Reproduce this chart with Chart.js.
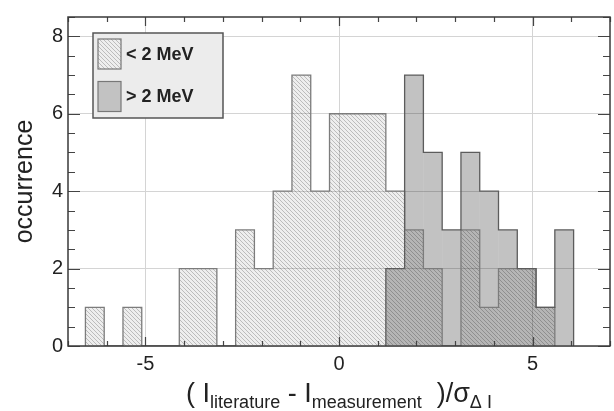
<!DOCTYPE html>
<html>
<head>
<meta charset="utf-8">
<script src="https://cdn.jsdelivr.net/npm/chart.js@4.4.0/dist/chart.umd.min.js"></script>
<style>
    body { margin: 0; background: #fff; }
    #wrap { width: 614px; height: 411px; }
</style>
</head>
<body>
<div id="wrap"><canvas id="histChart" width="614" height="411"></canvas></div>
<script>
// Histogram data (27 bin edges -> 26 bins)
const binEdges = [-6.55, -6.065, -5.58, -5.095, -4.61, -4.125, -3.64, -3.155, -2.67, -2.185, -1.70,
    -1.215, -0.73, -0.245, 0.24, 0.725, 1.21, 1.695, 2.18, 2.665, 3.15, 3.635, 4.12, 4.605, 5.09, 5.575, 6.06];
const seriesLabels = ['< 2 MeV', '> 2 MeV'];
const lowEnergy  = [1, 0, 1, 0, 0, 2, 2, 0, 3, 2, 4, 7, 4, 6, 6, 6, 4, 3, 2, 0, 3, 1, 2, 2, 1, 0];
const highEnergy = [0, 0, 0, 0, 0, 0, 0, 0, 0, 0, 0, 0, 0, 0, 0, 0, 2, 7, 5, 3, 5, 4, 3, 2, 1, 3];
const xTickValues = [-5, 0, 5];
const yTickValues = [0, 2, 4, 6, 8];

const FONT = "'Liberation Sans', Arial, sans-serif";
Chart.defaults.font.family = FONT;
Chart.defaults.color = '#222';

// Diagonal hatch pattern for the "< 2 MeV" bars
function makeHatch(bg, line) {
    const s = 4;
    const c = document.createElement('canvas');
    c.width = s; c.height = s;
    const g = c.getContext('2d');
    g.fillStyle = bg;
    g.fillRect(0, 0, s, s);
    g.strokeStyle = line;
    g.lineWidth = 1;
    g.beginPath();
    for (let k = -s; k <= s; k += s) {
        g.moveTo(k, 0);
        g.lineTo(k + s, s);
    }
    g.stroke();
    return g.createPattern(c, 'repeat');
}

const hatchFill = makeHatch('#eeeeee', '#bcbcbc');
const grayFill = '#c2c2c2';

// Bar data: one bar per bin, centred between its edges
function barData(values) {
    return values.map((v, i) => ({ x: (binEdges[i] + binEdges[i + 1]) / 2, y: v === 0 ? null : v }));
}

// Step outline of the histogram (no internal separators)
function stepData(values) {
    let first = values.findIndex(v => v !== 0);
    let last = values.length - 1;
    while (last > 0 && values[last] === 0) last--;
    const pts = [{ x: binEdges[first], y: 0 }];
    for (let i = first; i <= last; i++) {
        pts.push({ x: binEdges[i + 1], y: values[i] });
    }
    pts.push({ x: binEdges[last + 1], y: 0 });
    return pts;
}

// Multiply blending so the overlap of both series becomes darker
const blendPlugin = {
    id: 'blend',
    beforeDatasetDraw(chart, args) {
        if (chart.data.datasets[args.index].type === 'bar') {
            chart.ctx.save();
            chart.ctx.globalCompositeOperation = 'multiply';
        }
    },
    afterDatasetDraw(chart, args) {
        if (chart.data.datasets[args.index].type === 'bar') chart.ctx.restore();
    }
};

// Frame, inward ticks, legend box and x axis title
const decorPlugin = {
    id: 'decor',
    afterDraw(chart) {
        const ctx = chart.ctx;
        const { left, right, top, bottom } = chart.chartArea;
        const xs = chart.scales.x, ys = chart.scales.y;

        ctx.save();
        ctx.strokeStyle = '#444';
        ctx.lineWidth = 1.2;
        ctx.beginPath();
        for (let v = Math.ceil(xs.min); v <= xs.max; v++) {
            const px = Math.round(xs.getPixelForValue(v)) + 0.5;
            const len = v % 5 === 0 ? 9 : 5;
            ctx.moveTo(px, top); ctx.lineTo(px, top + len);
            ctx.moveTo(px, bottom); ctx.lineTo(px, bottom - len);
        }
        for (let v = 0; v <= ys.max; v += 0.5) {
            const py = Math.round(ys.getPixelForValue(v)) + 0.5;
            const len = v % 2 === 0 ? 12 : 7;
            ctx.moveTo(left, py); ctx.lineTo(left + len, py);
            ctx.moveTo(right, py); ctx.lineTo(right - len, py);
        }
        ctx.stroke();

        ctx.strokeStyle = '#3a3a3a';
        ctx.lineWidth = 1.5;
        ctx.strokeRect(left, top, right - left, bottom - top);

        // legend
        const lx = 93, ly = 33, lw = 130, lh = 85;
        ctx.fillStyle = '#ececec';
        ctx.fillRect(lx, ly, lw, lh);
        ctx.strokeStyle = '#555';
        ctx.lineWidth = 1.5;
        ctx.strokeRect(lx, ly, lw, lh);
        const fills = [hatchFill, grayFill];
        ctx.font = 'bold 18px ' + FONT;
        ctx.textBaseline = 'middle';
        seriesLabels.forEach((label, i) => {
            const sy = ly + 6 + i * 42.5;
            ctx.fillStyle = fills[i];
            ctx.fillRect(lx + 5, sy, 23, 30);
            ctx.strokeStyle = '#777';
            ctx.lineWidth = 1.2;
            ctx.strokeRect(lx + 5, sy, 23, 30);
            ctx.fillStyle = '#222';
            ctx.fillText(label, lx + 33, sy + 16);
        });

        // x axis title with subscripts
        const parts = [
            { text: '( ', sub: false }, { text: 'I', sub: false }, { text: 'literature', sub: true },
            { text: ' - ', sub: false }, { text: 'I', sub: false }, { text: 'measurement', sub: true },
            { text: '  )/\u03c3', sub: false }, { text: '\u0394 I', sub: true }
        ];
        const mainFont = '27px ' + FONT, subFont = '18px ' + FONT;
        let total = 0;
        parts.forEach(p => {
            ctx.font = p.sub ? subFont : mainFont;
            p.w = ctx.measureText(p.text).width;
            total += p.w;
        });
        let x = (left + right) / 2 - total / 2;
        ctx.textBaseline = 'alphabetic';
        ctx.fillStyle = '#222';
        parts.forEach(p => {
            ctx.font = p.sub ? subFont : mainFont;
            ctx.fillText(p.text, x, p.sub ? 408 : 402);
            x += p.w;
        });
        ctx.restore();
    }
};

const ctx = document.getElementById('histChart').getContext('2d');

new Chart(ctx, {
    type: 'bar',
    data: {
        datasets: [
            {
                type: 'bar',
                label: seriesLabels[0],
                data: barData(lowEnergy),
                backgroundColor: hatchFill,
                borderWidth: 0,
                inflateAmount: 0,
                barPercentage: 1,
                categoryPercentage: 1,
                grouped: false,
                order: 4
            },
            {
                type: 'bar',
                label: seriesLabels[1],
                data: barData(highEnergy),
                backgroundColor: grayFill,
                borderWidth: 0,
                inflateAmount: 0,
                barPercentage: 1,
                categoryPercentage: 1,
                grouped: false,
                order: 3
            },
            {
                type: 'line',
                label: seriesLabels[0] + ' outline',
                data: stepData(lowEnergy),
                stepped: 'after',
                borderColor: '#7c7c7c',
                borderWidth: 1.3,
                pointRadius: 0,
                fill: false,
                order: 2
            },
            {
                type: 'line',
                label: seriesLabels[1] + ' outline',
                data: stepData(highEnergy),
                stepped: 'after',
                borderColor: '#5c5c5c',
                borderWidth: 1.3,
                pointRadius: 0,
                fill: false,
                order: 1
            }
        ]
    },
    options: {
        responsive: false,
        animation: false,
        devicePixelRatio: 1,
        layout: { padding: { top: 12, right: 4, left: 0, bottom: 0 } },
        plugins: {
            legend: { display: false },
            tooltip: { enabled: false }
        },
        scales: {
            x: {
                type: 'linear',
                min: -7,
                max: 7,
                offset: false,
                afterBuildTicks: scale => { scale.ticks = xTickValues.map(v => ({ value: v })); },
                afterFit: scale => { scale.height = 65; },
                grid: { color: '#d4d4d4', lineWidth: 1, drawTicks: false, offset: false },
                border: { display: false },
                ticks: { font: { size: 20 }, padding: 6, maxRotation: 0 }
            },
            y: {
                min: 0,
                max: 8.5,
                afterBuildTicks: scale => { scale.ticks = yTickValues.map(v => ({ value: v })); },
                afterFit: scale => { scale.width = 68; },
                grid: { color: '#d4d4d4', lineWidth: 1, drawTicks: false },
                border: { display: false },
                ticks: { font: { size: 20 }, padding: 5 },
                title: {
                    display: true,
                    text: 'occurrence',
                    font: { size: 25 },
                    padding: { top: 10, bottom: 0 }
                }
            }
        }
    },
    plugins: [blendPlugin, decorPlugin]
});
</script>
</body>
</html>
